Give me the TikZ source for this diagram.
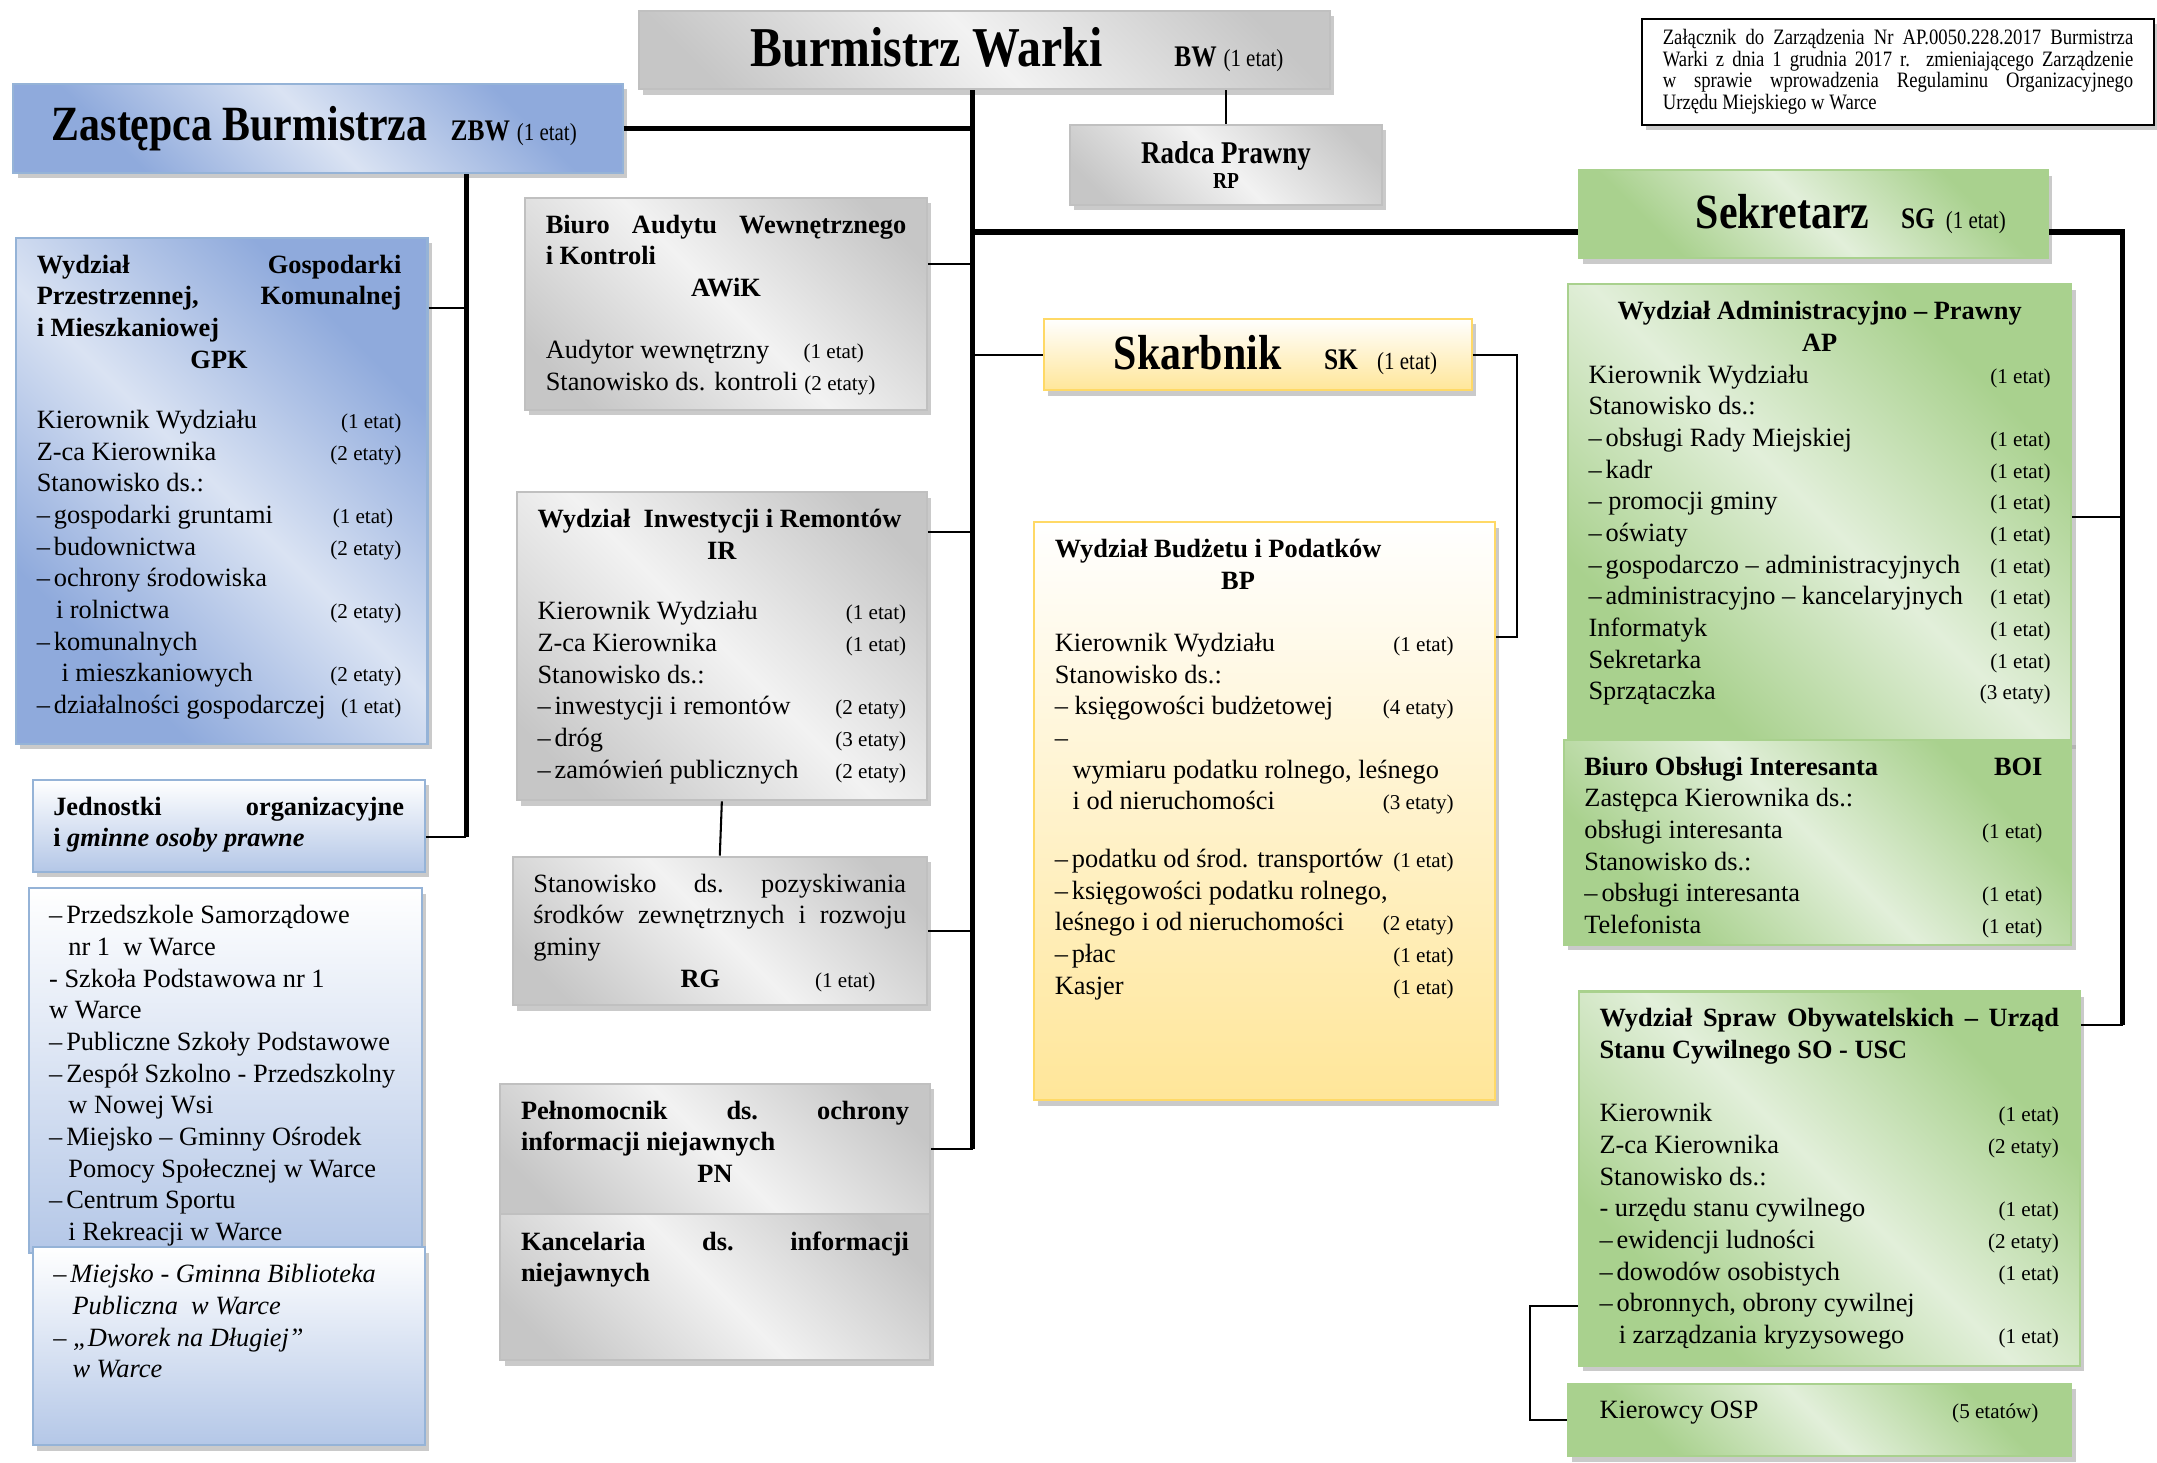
\documentclass[tikz,border=0pt]{standalone}
\usepackage{fontspec}
\setmainfont{Liberation Serif}
\newfontfamily\schmal[FakeStretch=0.85]{Liberation Serif}
\usetikzlibrary{shadows}

\definecolor{grauD}{HTML}{C6C6C6}
\definecolor{grauH}{HTML}{F2F2F2}
\definecolor{grauR}{HTML}{C0C0C0}
\definecolor{blauD}{HTML}{8FAADC}
\definecolor{blauH}{HTML}{DAE3F3}
\definecolor{blauR}{HTML}{95B3D7}
\definecolor{gruenD}{HTML}{A9D18E}
\definecolor{gruenH}{HTML}{E2EFDA}
\definecolor{gruenR}{HTML}{A9D18E}
\definecolor{gelbD}{HTML}{FFE699}
\definecolor{gelbR}{HTML}{FFD966}
\definecolor{hblauD}{HTML}{B4C7E7}

\pgfdeclarehorizontalshading{grauband}{100bp}{color(0bp)=(grauD); color(22bp)=(grauD); color(50bp)=(grauH); color(78bp)=(grauD); color(100bp)=(grauD)}
\pgfdeclarehorizontalshading{blauband}{100bp}{color(0bp)=(blauD); color(28bp)=(blauD); color(50bp)=(blauH); color(72bp)=(blauD); color(100bp)=(blauD)}
\pgfdeclarehorizontalshading{gruenband}{100bp}{color(0bp)=(gruenD); color(28bp)=(gruenD); color(50bp)=(gruenH); color(72bp)=(gruenD); color(100bp)=(gruenD)}

\newlength\du
\setlength\du{0.0275cm}

\newcommand{\kasten}[4][t]{\parbox[c][\dimexpr#3\du-14\du\relax][#1]{\dimexpr#2\du-30\du\relax}{\ifx t#1\vspace*{5.5\du}\fi#4}}
\newcommand{\et}[1]{{\fontsize{12}{18}\selectfont #1}}
\newcommand{\zl}[2]{#1\hfill\et{#2}\par}
\newcommand{\li}[1]{\mbox{#1}\par}
\newcommand{\kr}{–\hspace{0.15em}}
\newcommand{\titel}[2][28]{{\schmal\bfseries\fontsize{#1}{#1}\selectfont #2}}
\newcommand{\kode}[1]{{\schmal\bfseries\fontsize{17}{18}\selectfont #1}}
\newcommand{\ketat}[1]{{\schmal\fontsize{14}{18}\selectfont #1}}

\tikzset{
  amt/.style={anchor=north west, inner xsep=15\du, inner ysep=7\du, line width=1.5\du,
    font=\fontsize{15}{18}\selectfont,
    drop shadow={shadow xshift=3\du, shadow yshift=-4\du, fill=gray!70, opacity=0.6}},
  grau/.style={amt, draw=grauR, shade, shading=grauband, shading angle=45},
  blau/.style={amt, draw=blauR, shade, shading=blauband, shading angle=45},
  gruen/.style={amt, draw=gruenR, shade, shading=gruenband, shading angle=45},
  gelb/.style={amt, draw=gelbR, top color=white, bottom color=gelbD},
  hblau/.style={amt, draw=blauR, top color=white, bottom color=hblauD},
  dick/.style={line width=4\du},
  duenn/.style={line width=1.5\du}
}

\begin{document}
\begin{tikzpicture}[x=0.0275cm, y=-0.0275cm]
\useasboundingbox (0,0) rectangle (1568,1063);

\node[grau] (bw) at (464,7) {\kasten[c]{502}{57}{\hbox to\linewidth{\hspace*{66\du}\titel[32]{Burmistrz Warki}\hspace{52\du}\kode{BW}\hspace{5\du}\ketat{(1 etat)}\hss}}};

\node[amt, draw=black, fill=white, drop shadow={opacity=0}] (zal) at (1193,13) {\kasten[c]{372}{77}{\schmal\fontsize{12.5}{12.3}\selectfont\sloppy
Załącznik do Zarządzenia Nr AP.0050.228.2017 Burmistrza\linebreak
Warki z dnia 1 grudnia 2017 r. zmieniającego Zarządzenie\linebreak
w sprawie wprowadzenia Regulaminu Organizacyjnego\linebreak
Urzędu Miejskiego w Warce}};

\node[blau] (zbw) at (9,60) {\kasten[c]{443}{65}{\hbox to\linewidth{\hspace*{13\du}\titel{Zastępca Burmistrza}\hspace{17\du}\kode{ZBW}\hspace{5\du}\ketat{(1 etat)}\hss}}};

\node[grau] (rp) at (777,90) {\kasten[c]{227}{58}{\centering\schmal\bfseries\fontsize{18}{14}\selectfont Radca Prawny\\\fontsize{13}{14}\selectfont RP\par}};

\node[gruen] (sg) at (1147,123) {\kasten[c]{341}{64}{\hbox to\linewidth{\hspace*{70\du}\titel{Sekretarz}\hspace{23\du}\kode{SG}\hspace{8\du}\ketat{(1 etat)}\hss}}};

\node[blau] (gpk) at (11,172) {\kasten{299}{368}{\rightskip=4\du
{\bfseries Wydział\hfill Gospodarki\\
Przestrzennej,\hfill Komunalnej\\
i Mieszkaniowej\par
\hspace*{\fill}GPK\hspace*{\fill}\par}
\vspace{21\du}
\zl{Kierownik Wydziału}{(1 etat)}
\zl{Z-ca Kierownika}{(2 etaty)}
Stanowisko ds.:\par
\zl{\kr gospodarki gruntami}{(1 etat)\hspace*{6\du}}
\zl{\kr budownictwa}{(2 etaty)}
\kr ochrony środowiska\par
\zl{\hspace*{14\du}i rolnictwa}{(2 etaty)}
\kr komunalnych\par
\zl{\hspace*{18\du}i mieszkaniowych}{(2 etaty)}
\zl{\kr działalności gospodarczej}{(1 etat)}}};

\node[grau] (awik) at (381,143) {\kasten{292}{154}{%
{\bfseries Biuro\hfill Audytu\hfill Wewnętrznego\\
i Kontroli\par
\hspace*{\fill}AWiK\hspace*{\fill}\par}
\vspace{22\du}
Audytor wewnętrzny\hspace{25\du}\et{(1 etat)}\par
Stanowisko ds. kontroli \et{(2 etaty)}\par}};

\node[gelb] (sk) at (758,231) {\kasten[c]{311}{52}{\hbox to\linewidth{\hspace*{36\du}\titel{Skarbnik}\hspace{31\du}\kode{SK}\hspace{14\du}\ketat{(1 etat)}\hss}}};

\node[gruen] (ap) at (1139,206) {\kasten{366}{334}{%
{\bfseries\centering Wydział Administracyjno – Prawny\par AP\par}
\zl{Kierownik Wydziału}{(1 etat)}
Stanowisko ds.:\par
\zl{\kr obsługi Rady Miejskiej}{(1 etat)}
\zl{\kr kadr}{(1 etat)}
\zl{– promocji gminy}{(1 etat)}
\zl{\kr oświaty}{(1 etat)}
\zl{\kr gospodarczo – administracyjnych}{(1 etat)}
\zl{\kr administracyjno – kancelaryjnych}{(1 etat)}
\zl{Informatyk}{(1 etat)}
\zl{Sekretarka}{(1 etat)}
\zl{Sprzątaczka}{(3 etaty)}}};

\node[grau] (ir) at (375,357) {\kasten{298}{224}{%
{\bfseries Wydział\ \ Inwestycji i Remontów\par
\centering IR\par}
\vspace{21\du}
\zl{Kierownik Wydziału}{(1 etat)}
\zl{Z-ca Kierownika}{(1 etat)}
Stanowisko ds.:\par
\zl{\kr inwestycji i remontów}{(2 etaty)}
\zl{\kr dróg}{(3 etaty)}
\zl{\kr zamówień publicznych}{(2 etaty)}}};

\node[gelb] (bp) at (751,379) {\kasten{335}{420}{\rightskip=15\du
{\bfseries Wydział Budżetu i Podatków\par
\hspace*{121\du}BP\par}
\vspace{22\du}
\zl{Kierownik Wydziału}{(1 etat)}
Stanowisko ds.:\par
\zl{– księgowości budżetowej}{(4 etaty)}
–\par
\hspace*{13\du}wymiaru podatku rolnego, leśnego\par
\zl{\hspace*{13\du}i od nieruchomości}{(3 etaty)}
\vspace{19\du}
\zl{\kr podatku od środ. transportów}{(1 etat)}
\kr księgowości podatku rolnego,\par
\zl{leśnego i od nieruchomości}{(2 etaty)}
\zl{\kr płac}{(1 etat)}
\zl{Kasjer}{(1 etat)}}};

\node[hblau] (jo) at (23,566) {\kasten{285}{67}{%
{\bfseries Jednostki\hfill organizacyjne\\
i \textit{gminne osoby prawne}\par}}};

\node[grau] (rg) at (372,622) {\kasten{301}{108}{%
Stanowisko\hfill ds.\hfill pozyskiwania\\
środków\hfill zewnętrznych\hfill i\hfill rozwoju\\
gminy\par
\hspace*{107\du}\textbf{RG}\hspace{69\du}\et{(1 etat)}\par}};

\node[hblau] (jl) at (20,645) {\kasten{286}{265}{%
\li{\kr Przedszkole Samorządowe}
\li{\hspace*{14\du}nr 1\ \ w Warce}
\li{- Szkoła Podstawowa nr 1}
\li{w Warce}
\li{\kr Publiczne Szkoły Podstawowe}
\li{\kr Zespół Szkolno - Przedszkolny}
\li{\hspace*{14\du}w Nowej Wsi}
\li{\kr Miejsko – Gminny Ośrodek}
\li{\hspace*{14\du}Pomocy Społecznej w Warce}
\li{\kr Centrum Sportu}
\li{\hspace*{14\du}i Rekreacji w Warce}}};

\node[hblau] (bib) at (23,906) {\kasten{285}{144}{\itshape
\li{\kr Miejsko - Gminna Biblioteka}
\li{\hspace*{14\du}Publiczna\ \ w Warce}
\li{– „Dworek na Długiej”}
\li{\hspace*{14\du}w Warce}}};

\node[gruen] (boi) at (1136,537) {\kasten{369}{149}{\rightskip=6\du
{\bfseries Biuro Obsługi Interesanta\hfill BOI\par}
Zastępca Kierownika ds.:\par
\zl{obsługi interesanta}{(1 etat)}
Stanowisko ds.:\par
\zl{\kr obsługi interesanta}{(1 etat)}
\zl{Telefonista}{(1 etat)}}};

\node[gruen] (so) at (1147,720) {\kasten{364}{272}{%
{\bfseries Wydział\hfill Spraw\hfill Obywatelskich\hfill –\hfill Urząd\\
Stanu Cywilnego SO - USC\par}
\vspace{23\du}
\zl{Kierownik}{(1 etat)}
\zl{Z-ca Kierownika}{(2 etaty)}
Stanowisko ds.:\par
\zl{- urzędu stanu cywilnego}{(1 etat)}
\zl{\kr ewidencji ludności}{(2 etaty)}
\zl{\kr dowodów osobistych}{(1 etat)}
\kr obronnych, obrony cywilnej\par
\zl{\hspace*{14\du}i zarządzania kryzysowego}{(1 etat)}}};

\node[grau] (pn) at (363,787) {\kasten{312}{95}{%
{\bfseries Pełnomocnik\hfill ds.\hfill ochrony\\
informacji niejawnych\par
\hspace*{\fill}PN\hspace*{\fill}\par}}};

\node[grau] (kn) at (363,882) {\kasten{312}{106}{%
{\bfseries Kancelaria\hfill ds.\hfill informacji\\
niejawnych\par}}};

\node[gruen] (osp) at (1139,1005) {\kasten{366}{53}{\rightskip=9\du
\zl{\hspace*{8\du}Kierowcy OSP}{(5 etatów)}}};

\coordinate (stamm) at (707,0);
\coordinate (zbwbus) at (339,0);
\coordinate (skbus) at (1103,0);
\coordinate (sgbus) at (1543,0);
\coordinate (ospbus) at (1112,0);
\coordinate (sgl) at ([yshift=-13\du]sg.west);
\coordinate (sgr) at ([yshift=-13\du]sg.east);
\coordinate (awikan) at ([yshift=29\du]awik.east);
\coordinate (iran) at ([yshift=-30\du]ir.north east);
\coordinate (joan) at ([yshift=-8\du]jo.east);
\coordinate (gpkan) at ([yshift=-52\du]gpk.north east);
\coordinate (bpan) at ([yshift=-84\du]bp.north east);
\coordinate (apan) at ([yshift=-170\du]ap.north east);
\coordinate (soan) at ([yshift=-25\du]so.north east);
\coordinate (soab) at ([yshift=44\du]so.south west);

\draw[dick] (bw.south -| stamm) -- (pn.east -| stamm);
\draw[duenn] (pn.east -| stamm) -- (pn.east);
\draw[dick] (zbw.east) -- (zbw.east -| stamm);
\draw[dick] (sgl -| stamm) -- (sgl);
\draw[duenn] (awikan) -- (awikan -| stamm);
\draw[duenn] (sk.west) -- (sk.west -| stamm);
\draw[duenn] (iran) -- (iran -| stamm);
\draw[duenn] (rg.east) -- (rg.east -| stamm);
\draw[duenn] (ir.south) -- (rg.north);
\draw[duenn] (bw.south -| rp.north) -- (rp.north);
\draw[dick] (zbw.south -| zbwbus) -- (joan -| zbwbus);
\draw[duenn] (gpkan) -- (gpkan -| zbwbus);
\draw[duenn] (joan) -- (joan -| zbwbus);
\draw[duenn] (sk.east) -| (bpan -| skbus) -- (bpan);
\draw[duenn] (apan) -- (apan -| sgbus);
\draw[dick] (sgr) -| (soan -| sgbus);
\draw[duenn] (soan -| sgbus) -- (soan);
\draw[duenn] (soab) -| (osp.west -| ospbus) -- (osp.west);
\end{tikzpicture}
\end{document}
